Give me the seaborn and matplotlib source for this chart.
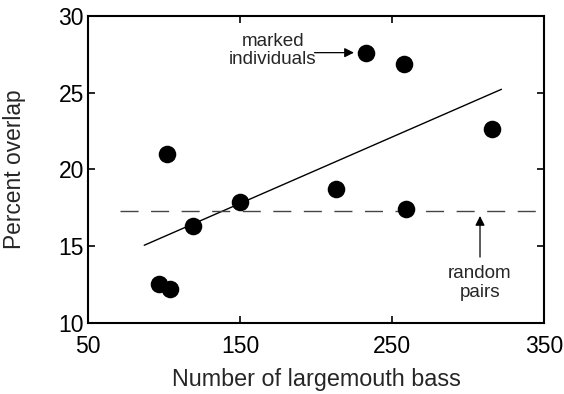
import matplotlib
matplotlib.use("Agg")
import matplotlib.pyplot as plt
import seaborn as sns
import pandas as pd

# data
bass_count = [97, 104, 102, 119, 150, 213, 233, 258, 259, 316]
pct_overlap = [12.5, 12.2, 21.0, 16.3, 17.9, 18.7, 27.6, 26.9, 17.4, 22.6]

fit_x = [87, 322]
fit_y = [15.05, 25.22]

random_pairs_level = 17.3
random_x = [71, 350]

x_ticks = [50, 150, 250, 350]
y_ticks = [10, 15, 20, 25, 30]

sns.set_style("ticks")
plt.rcParams['font.family'] = ['Liberation Sans', 'DejaVu Sans']

fig = plt.figure(figsize=(5.64, 3.94), dpi=100)
ax = fig.add_axes([88/564, 1 - 322.7/394, (544-88)/564, (322.7-16)/394])

df = pd.DataFrame({"x": bass_count, "y": pct_overlap})
sns.scatterplot(data=df, x="x", y="y", ax=ax, s=160, color="black",
                edgecolor="black", linewidth=0, zorder=3)

fit_df = pd.DataFrame({"x": fit_x, "y": fit_y})
sns.lineplot(data=fit_df, x="x", y="y", ax=ax, color="black", linewidth=1.0)

rp_df = pd.DataFrame({"x": random_x, "y": [random_pairs_level]*len(random_x)})
sns.lineplot(data=rp_df, x="x", y="y", ax=ax, color="#444444", linewidth=1.0,
             dashes=False, linestyle=(0, (13, 9)))

ax.set_xlim(50, 350)
ax.set_ylim(10, 30)
ax.set_xticks(x_ticks)
ax.set_yticks(y_ticks)
ax.tick_params(axis="both", direction="in", length=5, width=1.2,
               top=True, right=True, labelsize=16.5, colors="black")
ax.tick_params(axis="x", pad=9)
ax.tick_params(axis="y", pad=3)
for sp in ax.spines.values():
    sp.set_linewidth(1.5)
    sp.set_color("black")

ax.set_xlabel("Number of largemouth bass", fontsize=16.8, labelpad=7)
ax.set_ylabel("Percent overlap", fontsize=16.4, labelpad=23)

ax.annotate("", xy=(226.8, 27.61), xytext=(197.2, 27.61),
            arrowprops=dict(arrowstyle="-|>", color="black", lw=0.9,
                            mutation_scale=14))
ax.text(171.7, 27.75, "marked\nindividuals", ha="center", va="center",
        fontsize=13.6, linespacing=1.15)

ax.annotate("", xy=(307.9, 17.14), xytext=(307.9, 14.1),
            arrowprops=dict(arrowstyle="-|>", color="black", lw=0.9,
                            mutation_scale=14))
ax.text(307.9, 12.6, "random\npairs", ha="center", va="center",
        fontsize=13.6, linespacing=1.15)

fig.savefig("out.png", dpi=100)
